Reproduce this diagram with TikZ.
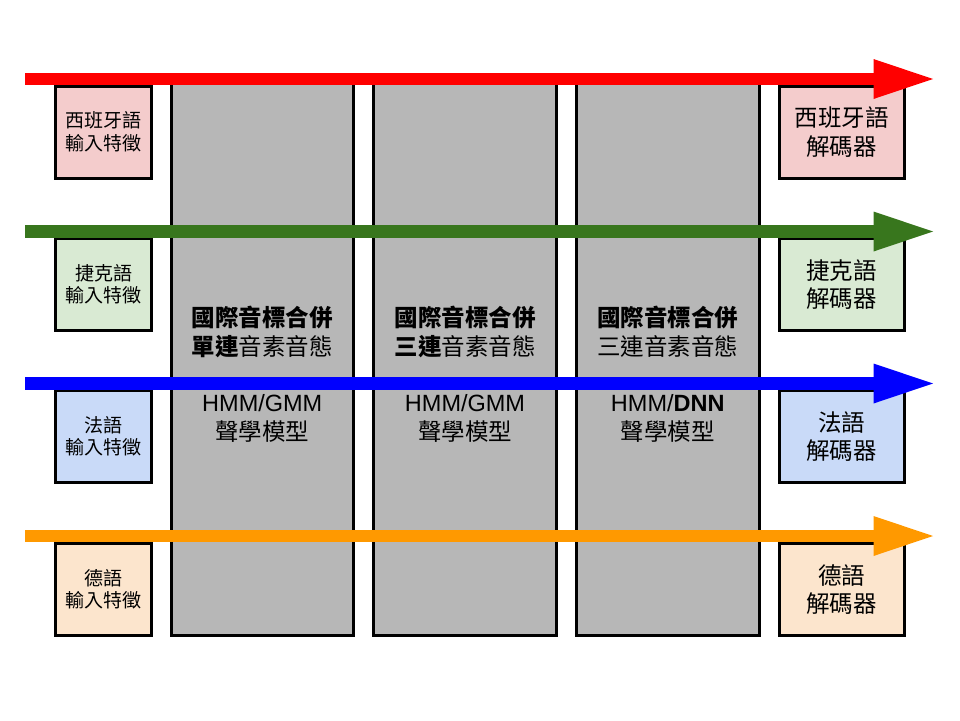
\documentclass[tikz,border=0pt]{standalone}
\usepackage{fontspec}
\setmainfont{Liberation Sans}
\newfontfamily\cjk{Noto Sans CJK TC}
\definecolor{aRed}{HTML}{FF0000}
\definecolor{aGreen}{HTML}{38761D}
\definecolor{aBlue}{HTML}{0000FF}
\definecolor{aOrange}{HTML}{FF9900}
\definecolor{fRed}{HTML}{F4CCCC}
\definecolor{fGreen}{HTML}{D9EAD3}
\definecolor{fBlue}{HTML}{C9DAF8}
\definecolor{fOrange}{HTML}{FCE5CD}
\definecolor{colGrey}{HTML}{B7B7B7}
\begin{document}
\begin{tikzpicture}[x=1pt,y=-1pt,
  colbox/.style={draw=black, line width=3pt, fill=colGrey, minimum width=182.5pt, minimum height=555pt, inner sep=0pt},
  inbox/.style={draw=black, line width=3pt, minimum width=96pt, minimum height=92pt, inner sep=0pt, align=center, font=\cjk\fontsize{19}{22.5}\selectfont},
  outbox/.style={draw=black, line width=3pt, minimum width=124.7pt, minimum height=92pt, inner sep=0pt, align=center, font=\cjk\fontsize{23.5}{28.5}\selectfont},
  coltext/.style={align=center, inner sep=0pt, font=\fontsize{23.5}{29}\selectfont},
  shaft/.style={line width=12.5pt},
]
\useasboundingbox (0,0) rectangle (960,720);

% columns
\node[colbox] (c1) at (262.25,357.5) {};
\node[colbox] (c2) at (465,357.5) {};
\node[colbox] (c3) at (667.75,357.5) {};

\node[coltext] (t1a) at (262.25,331.5) {{\cjk\bfseries 國際音標合併}\\{\cjk\bfseries 單連}{\cjk 音素音態}};
\node[coltext] (t1b) at (262.25,418) {HMM/GMM\\{\cjk 聲學模型}};
\node[coltext] (t2a) at (465,331.5) {{\cjk\bfseries 國際音標合併}\\{\cjk\bfseries 三連}{\cjk 音素音態}};
\node[coltext] (t2b) at (465,418) {HMM/GMM\\{\cjk 聲學模型}};
\node[coltext] (t3a) at (667.75,331.5) {{\cjk\bfseries 國際音標合併}\\{\cjk 三連音素音態}};
\node[coltext] (t3b) at (667.75,418) {HMM/\textbf{DNN}\\{\cjk 聲學模型}};

% input boxes
\node[inbox, fill=fRed] (in1) at (103.7,132) {西班牙語\\輸入特徵};
\node[inbox, fill=fGreen] (in2) at (103.7,284.5) {捷克語\\輸入特徵};
\node[inbox, fill=fBlue] (in3) at (103.7,436.5) {法語\\輸入特徵};
\node[inbox, fill=fOrange] (in4) at (103.7,589.5) {德語\\輸入特徵};

% decoder boxes
\node[outbox, fill=fRed] (out1) at (841.7,132) {西班牙語\\解碼器};
\node[outbox, fill=fGreen] (out2) at (841.7,284.5) {捷克語\\解碼器};
\node[outbox, fill=fBlue] (out3) at (841.7,436.5) {法語\\解碼器};
\node[outbox, fill=fOrange] (out4) at (841.7,589.5) {德語\\解碼器};

% arrows
\foreach \i/\yy/\cc in {1/79/aRed, 2/231.5/aGreen, 3/383.5/aBlue, 4/536/aOrange}{
  \coordinate (s\i) at (25,\yy);
  \coordinate (b\i) at (873.5,\yy);
  \coordinate (e\i) at (933,\yy);
  \draw[shaft, \cc] (s\i) -- (b\i);
  \fill[\cc] ([yshift=-20pt]b\i) -- (e\i) -- ([yshift=20pt]b\i) -- cycle;
}
\end{tikzpicture}
\end{document}
